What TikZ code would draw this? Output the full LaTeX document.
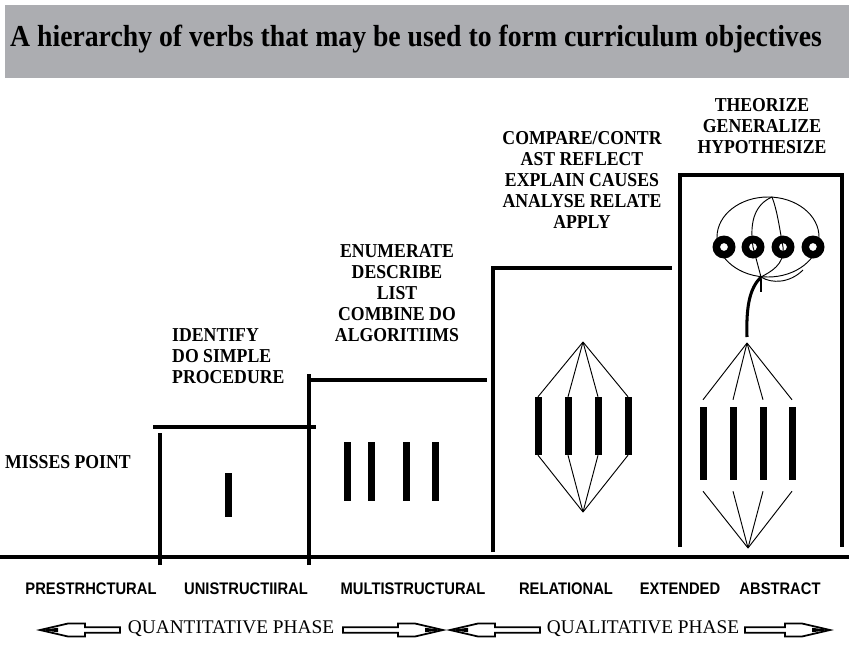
\documentclass[tikz,border=0pt]{standalone}
\usepackage{fontspec}
\setmainfont{Liberation Serif}
\newfontfamily\levelfont[FakeStretch=0.88]{Liberation Sans}
\newfontfamily\narrowserif[FakeStretch=0.9]{Liberation Serif}
\newfontfamily\titlefont[FakeStretch=0.91]{Liberation Serif}
\usetikzlibrary{positioning,calc}
\definecolor{bandgray}{RGB}{172,173,177}
% one pixel of the sketch
\newcommand*{\px}{0.03cm}
\newcommand*{\verbfont}{\narrowserif\fontsize{16.8}{17.9}\selectfont\bfseries}
% hollow double arrow: tail x, tip x, y
\newcommand*{\phasearrow}[3]{%
  \pgfmathsetmacro\arrlen{abs(#2-#1)}%
  \pgfmathsetmacro\arrdir{sign(#2-#1)}%
  \begin{scope}[shift={(#1,#3)},xscale=\arrdir]
    \draw[arrowline] (0,-2.8) -- ({\arrlen-45},-2.8) -- ({\arrlen-45},-6.5)
      -- ({\arrlen-28},-6.5) -- (\arrlen,0) -- ({\arrlen-28},6.5)
      -- ({\arrlen-45},6.5) -- ({\arrlen-45},2.8) -- (0,2.8) -- cycle;
    \fill ({\arrlen-18},-2.2) -- (\arrlen,0) -- ({\arrlen-18},2.2) -- cycle;
  \end{scope}}
\tikzset{
  stepline/.style={line width=2.6pt},
  fanline/.style={line width=0.8pt},
  slab/.style={fill=black,inner sep=0pt,minimum width=7*\px},
  verblabel/.style={font=\verbfont,inner sep=0pt,align=center},
  levellabel/.style={font=\levelfont\fontsize{14.3}{16}\selectfont\bfseries,
    inner sep=0pt,anchor=base},
  phaselabel/.style={font=\fontsize{16.5}{18}\selectfont,inner sep=0pt},
  arrowline/.style={line width=1.5pt,fill=white},
}

\begin{document}
\begin{tikzpicture}[x=\px,y=-\px]
\useasboundingbox (0,0) rectangle (849,647);
% Title band
\fill[bandgray] (5,5) rectangle (849,78);
\node[font=\titlefont\fontsize{26}{28}\selectfont\bfseries,inner sep=0pt,
  anchor=base west] (title) at (10,47)
  {A hierarchy of verbs that may be used to form curriculum objectives};
% Ground line
\coordinate (g0) at (0,557);
\coordinate (g1) at (849,557);
\draw[stepline] (g0) -- (g1);
% Steps of the staircase
\draw[stepline] (160,565) -- (160,433);
\draw[stepline] (153,427) -- (316,427);
\draw[stepline] (309,565) -- (309,374);
\draw[stepline] (309,380) -- (487,380);
\draw[stepline] (493,552) -- (493,268) -- (672,268);
\draw[stepline] (680,547) -- (680,175) -- (842,175) -- (842,547);
% Unistructural and multistructural bars
\node[slab,minimum height=44*\px] (ub) at (228,495) {};
\foreach \x [count=\i] in {347,371,406,435}
  \node[slab,minimum height=59*\px] (mb\i) at (\x,471.5) {};
% Relational: bars tied at both ends
\coordinate (rtop) at (583,342);
\coordinate (rbot) at (583,512);
\foreach \x [count=\i] in {538,568,598,628}
  \node[slab,minimum height=58*\px] (rb\i) at (\x,426) {};
\foreach \i in {1,...,4}
  \draw[fanline] (rtop) -- (rb\i.north) (rb\i.south) -- (rbot);
% Extended abstract: bars with loose ends
\coordinate (etop) at (747,343);
\coordinate (ebot) at (748,548);
\foreach \x [count=\i] in {703,733,763,792}
  \node[slab,minimum height=73*\px] (eb\i) at (\x,443.5) {};
\foreach \i in {1,...,4}{
  \draw[fanline] (etop) -- ([yshift=7*\px]eb\i.north);
  \draw[fanline] ([yshift=-11*\px]eb\i.south) -- (ebot);
}
% Ellipse with four rings above
\coordinate (ectr) at (768,237);
\coordinate (eapex) at (772,197);
\coordinate (ej) at (761,277);
\foreach \x [count=\i] in {724,753,783,813}
  \coordinate (d\i) at (\x,247);
\draw[fanline] (ectr) ellipse[x radius=51,y radius=40];
\draw[fanline] (eapex) .. controls (756,204) and (749,220) .. (d2);
\draw[fanline] (eapex) .. controls (777,210) and (779,225) .. (d3);
\draw[fanline] (d2) -- (ej);
\draw[fanline] (d3) .. controls (785,265) and (770,272) .. (ej);
\draw[fanline] (ej) .. controls (772,284) and (790,283) .. (803,270);
\foreach \i in {1,...,4}
  \fill[even odd rule] (d\i) circle[radius=11.5] circle[radius=4];
\draw[line width=2.2pt] (761,279) -- (761,292);
\draw[line width=2.6pt] (747,337) .. controls (746,305) and (750,288) .. (ej);
% Verb lists
\node[verblabel,anchor=west,align=left] (miss) at (5,462) {MISSES POINT};
\node[verblabel,anchor=west,align=left] (ident) at (172,356.5)
  {IDENTIFY\\DO SIMPLE\\PROCEDURE};
\node[verblabel] (enum) at (397,293)
  {ENUMERATE\\DESCRIBE\\LIST\\COMBINE DO\\ALGORITIIMS};
\node[verblabel] (comp) at (582,180)
  {COMPARE/CONTR\\AST REFLECT\\EXPLAIN CAUSES\\ANALYSE RELATE\\APPLY};
\node[verblabel] (theo) at (762,126.5) {THEORIZE\\GENERALIZE\\HYPOTHESIZE};
% Level names
\foreach \x/\t [count=\i] in {91/PRESTRHCTURAL,246/UNISTRUCTIIRAL,
    413/MULTISTRUCTURAL,566/RELATIONAL,680/EXTENDED,780/ABSTRACT}
  \node[levellabel] (lvl\i) at (\x,594) {\t};
% Phases
\node[phaselabel] (quant) at (231,629) {QUANTITATIVE PHASE};
\node[phaselabel] (qual) at (643,629) {QUALITATIVE PHASE};
\phasearrow{120}{40}{630}
\phasearrow{343}{443}{630}
\phasearrow{540}{450}{630}
\phasearrow{745}{830}{630}
\end{tikzpicture}
\end{document}
